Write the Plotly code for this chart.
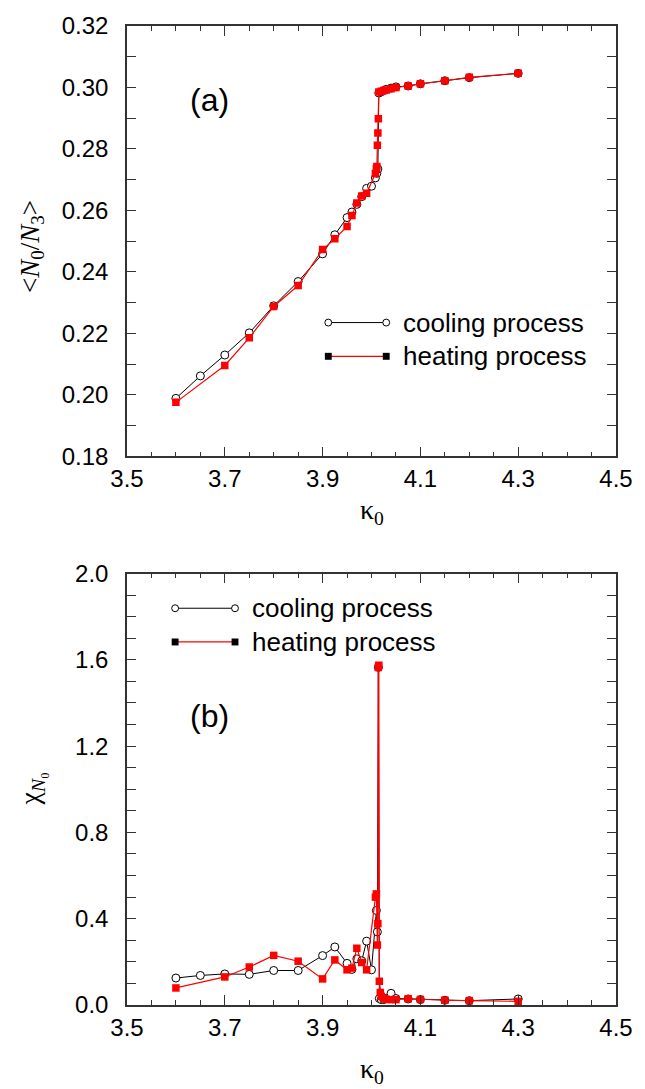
import plotly.graph_objects as go

# ---------------- data (panel a) ----------------
k_cool_a = [3.6, 3.65, 3.7, 3.75, 3.8, 3.85, 3.9, 3.925, 3.95, 3.96, 3.97, 3.98, 3.99, 4.0,
            4.008, 4.011, 4.013, 4.015, 4.02, 4.025, 4.03, 4.04, 4.05, 4.075, 4.1, 4.15, 4.2, 4.3]
n_cool_a = [0.1989, 0.2062, 0.2130, 0.2202, 0.2290, 0.2369, 0.2459, 0.2521, 0.2577, 0.2595,
            0.2620, 0.2645, 0.2672, 0.2679, 0.2706, 0.2721, 0.2735, 0.2982, 0.2986, 0.2990,
            0.2994, 0.2998, 0.3002, 0.3005, 0.3012, 0.3022, 0.3032, 0.3046]

k_heat_a = [3.6, 3.7, 3.75, 3.8, 3.85, 3.9, 3.925, 3.95, 3.96, 3.97, 3.98, 3.99,
            4.008, 4.010, 4.011, 4.012, 4.013, 4.014, 4.015, 4.02, 4.025, 4.03, 4.04, 4.05,
            4.075, 4.1, 4.15, 4.2, 4.3]
n_heat_a = [0.1976, 0.2096, 0.2186, 0.2288, 0.2356, 0.2473, 0.2508, 0.2548, 0.2584, 0.2624,
            0.2647, 0.2656, 0.2720, 0.2736, 0.2743, 0.2812, 0.2852, 0.2898, 0.2985, 0.2988,
            0.2990, 0.2992, 0.2996, 0.3000, 0.3005, 0.3012, 0.3022, 0.3033, 0.3046]

# ---------------- data (panel b) ----------------
k_cool_b = [3.6, 3.65, 3.7, 3.75, 3.8, 3.85, 3.9, 3.925, 3.95, 3.96, 3.97, 3.98, 3.99, 4.0,
            4.01, 4.012, 4.014, 4.016, 4.02, 4.025, 4.03, 4.04, 4.05, 4.075, 4.1, 4.15, 4.2, 4.3]
chi_cool = [0.125, 0.137, 0.144, 0.142, 0.160, 0.160, 0.229, 0.269, 0.193, 0.165, 0.214, 0.205,
            0.296, 0.163, 0.438, 0.339, 1.565, 0.030, 0.025, 0.025, 0.030, 0.054, 0.030, 0.028,
            0.025, 0.022, 0.020, 0.028]

k_heat_b = [3.6, 3.7, 3.75, 3.8, 3.85, 3.9, 3.925, 3.95, 3.96, 3.97, 3.98, 3.99,
            4.008, 4.010, 4.012, 4.013, 4.014, 4.015, 4.016, 4.018, 4.02, 4.025, 4.03, 4.04,
            4.05, 4.075, 4.1, 4.15, 4.2, 4.3]
chi_heat = [0.079, 0.130, 0.176, 0.230, 0.203, 0.121, 0.209, 0.163, 0.171, 0.263, 0.197, 0.163,
            0.500, 0.515, 0.278, 0.377, 1.565, 1.575, 0.110, 0.058, 0.040, 0.030, 0.026, 0.025,
            0.025, 0.029, 0.026, 0.022, 0.020, 0.017]

series_names = ["cooling process", "heating process"]
x_ticks = [3.5, 3.7, 3.9, 4.1, 4.3, 4.5]
ya_ticks = [0.18, 0.20, 0.22, 0.24, 0.26, 0.28, 0.30, 0.32]
yb_ticks = [0.0, 0.4, 0.8, 1.2, 1.6, 2.0]

# ---------------- geometry ----------------
W, H = 645, 1089
L, R, T, B = 127, 20, 18, 84
PW, PH = W - L - R, H - T - B


def pyp(y):
    return (H - B - y) / PH


def pxp(x):
    return (x - L) / PW


SANS = "Liberation Sans, Arial, sans-serif"
SERIF = "Liberation Serif, Times New Roman, serif"
AX = "#333333"

fig = go.Figure()

cool_style = dict(mode="lines+markers", line=dict(color="black", width=1),
                  marker=dict(symbol="circle", size=8, color="white",
                              line=dict(color="black", width=1)),
                  showlegend=False)
heat_style = dict(mode="lines+markers", line=dict(color="red", width=1.2),
                  marker=dict(symbol="square", size=7.5, color="red",
                              line=dict(color="red", width=0)),
                  showlegend=False)

fig.add_trace(go.Scatter(x=k_cool_a, y=n_cool_a, name=series_names[0], xaxis="x", yaxis="y", **cool_style))
fig.add_trace(go.Scatter(x=k_heat_a, y=n_heat_a, name=series_names[1], xaxis="x", yaxis="y", **heat_style))
fig.add_trace(go.Scatter(x=k_cool_b, y=chi_cool, name=series_names[0], xaxis="x2", yaxis="y2", **cool_style))
fig.add_trace(go.Scatter(x=k_heat_b, y=chi_heat, name=series_names[1], xaxis="x2", yaxis="y2", **heat_style))

xcommon = dict(range=[3.5, 4.5], tickvals=x_ticks, ticktext=[f"{v:.1f}" for v in x_ticks],
               ticks="inside", ticklen=10, tickwidth=1, tickcolor=AX,
               minor=dict(dtick=0.05, tick0=3.5, ticks="inside", ticklen=5, tickcolor=AX, tickwidth=1),
               showline=True, linecolor=AX, linewidth=1.5, mirror="allticks",
               showgrid=False, zeroline=False,
               tickfont=dict(family=SANS, size=24, color="black"))

ycommon = dict(ticks="inside", ticklen=9, tickcolor=AX,
               showline=True, linecolor=AX, linewidth=1.5, mirror="allticks",
               showgrid=False, zeroline=False, ticklabelstandoff=12,
               tickfont=dict(family=SANS, size=24, color="black"))

fig.update_layout(
    width=W, height=H, margin=dict(l=L, r=R, t=T, b=B),
    paper_bgcolor="white", plot_bgcolor="white",
    xaxis=dict(domain=[0, 1], anchor="y", **xcommon),
    xaxis2=dict(domain=[0, 1], anchor="y2", **xcommon),
    yaxis=dict(domain=[pyp(452), 1], anchor="x", range=[0.18, 0.32], tickvals=ya_ticks,
               ticktext=[f"{v:.2f}" for v in ya_ticks],
               minor=dict(dtick=0.01, tick0=0.18, ticks="inside", ticklen=9, tickcolor=AX),
               **ycommon),
    yaxis2=dict(domain=[0, pyp(570)], anchor="x2", range=[0, 2.0], tickvals=yb_ticks,
                ticktext=[f"{v:.1f}" for v in yb_ticks],
                minor=dict(dtick=0.1, tick0=0, ticks="inside", ticklen=9, tickcolor=AX),
                **ycommon),
)

ann = []


def txt(text, x, y, size, family=SANS, angle=0, xanchor="center"):
    ann.append(dict(text=text, x=pxp(x), y=pyp(y), xref="paper", yref="paper",
                    xanchor=xanchor, yanchor="middle", showarrow=False, textangle=angle,
                    font=dict(family=family, size=size, color="black")))


# axis titles
txt("κ<sub>0</sub>", 377, 507, 28, SERIF)
txt("κ<sub>0</sub>", 377, 1071, 28, SERIF)
txt("&lt;<i>N</i><sub>0</sub>/<i>N</i><sub>3</sub>&gt;", 30, 240, 27, SERIF, angle=-90)
txt("χ<sub><i>N</i>₀</sub>", 30, 787, 28, SERIF, angle=-90)
# panel labels
txt("(a)", 211, 93, 32)
txt("(b)", 211, 714, 32)

shapes = []


def legend(x0, x1, ytop, gap, tx):
    # cooling
    y1 = ytop
    shapes.append(dict(type="line", xref="paper", yref="paper", x0=pxp(x0), x1=pxp(x1),
                       y0=pyp(y1), y1=pyp(y1), line=dict(color="black", width=1)))
    for xc in (x0, x1):
        shapes.append(dict(type="circle", xref="paper", yref="paper",
                           x0=pxp(xc - 3.5), x1=pxp(xc + 3.5), y0=pyp(y1 + 3.5), y1=pyp(y1 - 3.5),
                           line=dict(color="black", width=1), fillcolor="white"))
    txt(series_names[0], tx, y1, 26, xanchor="left")
    # heating
    y2 = ytop + gap
    shapes.append(dict(type="line", xref="paper", yref="paper", x0=pxp(x0), x1=pxp(x1),
                       y0=pyp(y2), y1=pyp(y2), line=dict(color="red", width=1.2)))
    for xc in (x0, x1):
        shapes.append(dict(type="rect", xref="paper", yref="paper",
                           x0=pxp(xc - 3.5), x1=pxp(xc + 3.5), y0=pyp(y2 + 3.5), y1=pyp(y2 - 3.5),
                           line=dict(color="black", width=0), fillcolor="black"))
    txt(series_names[1], tx, y2, 26, xanchor="left")


legend(332, 391, 317, 34, 406)
legend(176, 237, 605, 34, 252)

fig.update_layout(annotations=ann, shapes=shapes)
fig.write_html("out.html")
